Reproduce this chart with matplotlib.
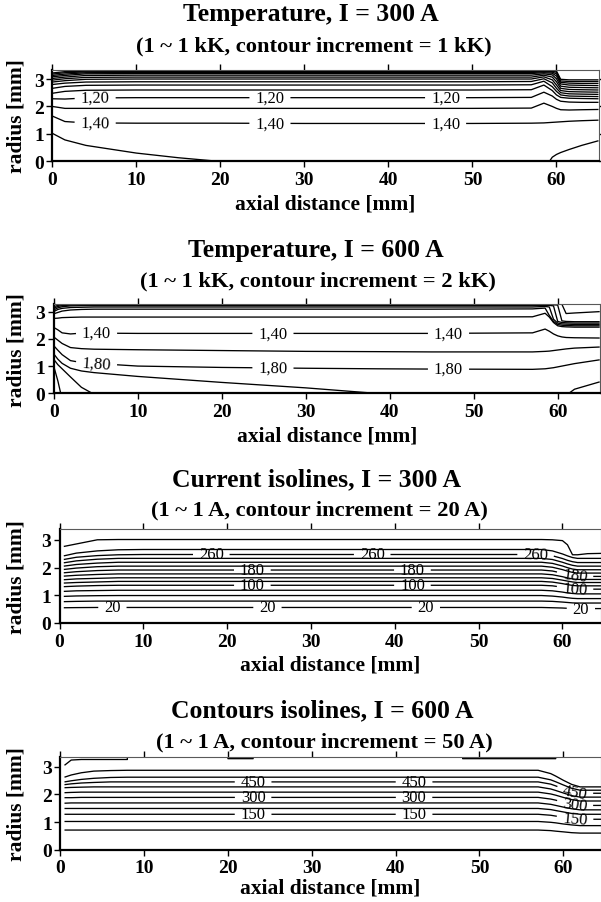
import numpy as np
import matplotlib
matplotlib.use('Agg')
import matplotlib.pyplot as plt

plt.rcParams['font.family'] = ['Liberation Serif', 'DejaVu Serif']

nan = np.nan
W, H = 601, 903

# ---------------- panel 1: temperature, I = 300 A (units of 10 kK) ----------------
x1 = [0, 1.5, 4, 10, 15, 20, 30, 40, 50, 57, 58.5, 59.5, 60.0, 60.5, 61.5, 63, 65]
axis1 = [1.58, 1.57, 1.56, 1.53, 1.51, 1.4995, 1.47, 1.46, 1.46, 1.46, 1.48, 1.51, 1.515, 1.52, 1.53, 1.545, 1.56]
levels1 = [1.5, 1.4, 1.3, 1.2, 1.1, 1.0, 0.9, 0.8, 0.7, 0.6, 0.5, 0.4, 0.3, 0.2]
radii1 = [
    [1.02, 0.78, 0.58, 0.30, 0.13, nan, nan, nan, nan, nan, nan, 0.15, 0.25, 0.32, 0.43, 0.58, 0.75],
    [1.65, 1.45, 1.40, 1.39, 1.39, 1.39, 1.38, 1.38, 1.38, 1.39, 1.40, 1.42, 1.43, 1.44, 1.46, 1.48, 1.50],
    [2.00, 1.93, 1.93, 1.93, 1.93, 1.93, 1.93, 1.93, 1.93, 1.94, 2.12, 2.00, 1.93, 1.88, 1.87, 1.88, 1.89],
    [2.28, 2.27, 2.31, 2.32, 2.32, 2.32, 2.32, 2.32, 2.32, 2.33, 2.52, 2.38, 2.26, 2.19, 2.16, 2.15, 2.15],
    [2.48, 2.55, 2.59, 2.60, 2.60, 2.60, 2.60, 2.60, 2.60, 2.61, 2.78, 2.58, 2.42, 2.33, 2.30, 2.29, 2.28],
    [2.66, 2.73, 2.77, 2.78, 2.78, 2.78, 2.78, 2.78, 2.78, 2.79, 2.92, 2.72, 2.55, 2.42, 2.38, 2.37, 2.36],
    [2.80, 2.85, 2.89, 2.90, 2.90, 2.90, 2.90, 2.90, 2.90, 2.91, 3.01, 2.86, 2.66, 2.50, 2.46, 2.45, 2.44],
    [2.89, 2.94, 2.99, 3.00, 3.00, 3.00, 3.00, 3.00, 3.00, 3.00, 3.08, 2.97, 2.78, 2.58, 2.54, 2.53, 2.52],
    [2.96, 3.01, 3.06, 3.07, 3.07, 3.07, 3.07, 3.07, 3.07, 3.07, 3.14, 3.07, 2.90, 2.66, 2.62, 2.61, 2.60],
    [3.02, 3.07, 3.13, 3.14, 3.14, 3.14, 3.14, 3.14, 3.14, 3.14, 3.19, 3.15, 3.01, 2.74, 2.70, 2.69, 2.68],
    [3.08, 3.13, 3.19, 3.20, 3.20, 3.20, 3.20, 3.20, 3.20, 3.20, 3.23, 3.21, 3.11, 2.82, 2.78, 2.77, 2.76],
    [3.13, 3.18, 3.23, 3.24, 3.24, 3.24, 3.24, 3.24, 3.24, 3.24, 3.26, 3.25, 3.19, 2.88, 2.85, 2.84, 2.84],
    [3.18, 3.23, 3.26, 3.27, 3.27, 3.27, 3.27, 3.27, 3.27, 3.27, 3.28, 3.28, 3.25, 2.93, 2.91, 2.91, 2.91],
    [3.22, 3.27, 3.285, 3.29, 3.29, 3.29, 3.29, 3.29, 3.29, 3.29, 3.295, 3.295, 3.29, 2.99, 2.97, 2.97, 2.97],
]
wall1_r = [3.32, 3.32, 3.32, 3.32, 3.32, 3.32, 3.32, 3.32, 3.32, 3.32, 3.32, 3.32, 3.32, 3.02, 3.02, 3.02, 3.02]
wall1_v = 0.1

# ---------------- panel 2: temperature, I = 600 A ----------------
x2 = [0, 0.5, 1, 2, 3.3, 4.8, 10, 20, 30, 38.5, 45, 57, 58.5, 59.0, 59.5, 60.0, 60.5, 61.0, 62.0, 65]
axis2 = [2.50, 2.44, 2.38, 2.32, 2.23, 2.195, 2.12, 2.06, 2.02, 1.9995, 1.98, 1.97, 1.97, 1.975, 1.98, 1.985, 1.99, 1.995, 2.01, 2.03]
levels2 = [2.4, 2.2, 2.0, 1.8, 1.6, 1.4, 1.2, 1.0, 0.8, 0.6, 0.4, 0.2]
radii2 = [
    [1.00, 0.45, nan, nan, nan, nan, nan, nan, nan, nan, nan, nan, nan, nan, nan, nan, nan, nan, nan, nan],
    [1.25, 1.05, 0.90, 0.60, 0.22, nan, nan, nan, nan, nan, nan, nan, nan, nan, nan, nan, nan, nan, nan, nan],
    [1.45, 1.25, 1.10, 0.92, 0.82, 0.76, 0.62, 0.40, 0.20, nan, nan, nan, nan, nan, nan, nan, nan, nan, 0.15, 0.42],
    [1.75, 1.58, 1.42, 1.20, 1.13, 1.10, 1.00, 0.95, 0.92, 0.90, 0.89, 0.88, 0.90, 0.92, 0.94, 0.97, 1.00, 1.03, 1.09, 1.23],
    [2.07, 1.95, 1.83, 1.68, 1.64, 1.62, 1.60, 1.57, 1.54, 1.53, 1.52, 1.52, 1.54, 1.55, 1.57, 1.59, 1.61, 1.63, 1.66, 1.70],
    [2.42, 2.33, 2.22, 2.18, 2.21, 2.21, 2.20, 2.20, 2.20, 2.20, 2.20, 2.22, 2.36, 2.28, 2.18, 2.11, 2.07, 2.05, 2.04, 2.03],
    [2.75, 2.76, 2.78, 2.79, 2.80, 2.80, 2.80, 2.80, 2.80, 2.80, 2.80, 2.81, 2.94, 2.80, 2.60, 2.48, 2.45, 2.44, 2.43, 2.43],
    [2.92, 2.97, 3.02, 3.06, 3.08, 3.09, 3.09, 3.09, 3.09, 3.09, 3.09, 3.10, 3.13, 2.86, 2.64, 2.53, 2.50, 2.49, 2.48, 2.48],
    [3.00, 3.08, 3.12, 3.15, 3.16, 3.17, 3.17, 3.17, 3.17, 3.17, 3.17, 3.17, 3.19, 3.17, 2.72, 2.58, 2.55, 2.54, 2.53, 2.53],
    [3.06, 3.14, 3.18, 3.21, 3.22, 3.22, 3.22, 3.22, 3.22, 3.22, 3.22, 3.22, 3.23, 3.23, 3.21, 2.64, 2.60, 2.59, 2.58, 2.58],
    [3.12, 3.19, 3.22, 3.24, 3.245, 3.245, 3.245, 3.245, 3.245, 3.245, 3.245, 3.245, 3.25, 3.25, 3.25, 3.24, 2.66, 2.64, 2.63, 2.63],
    [3.18, 3.23, 3.25, 3.265, 3.27, 3.27, 3.27, 3.27, 3.27, 3.27, 3.27, 3.27, 3.27, 3.27, 3.27, 3.27, 3.27, 2.93, 2.95, 3.00],
]
wall2_r = [3.30] * 17 + [2.98, 3.00, 3.04]
wall2_v = 0.1

# ---------------- panel 3: current isolines, I = 300 A ----------------
x3 = [0.5, 2, 4.5, 7, 10, 20, 30, 40, 50, 57.5, 58.8, 60.0, 60.6, 61.2, 61.8, 63, 64.6]
levels3 = [20, 40, 60, 80, 100, 120, 140, 160, 180, 200, 220, 240, 260, 280, 300]
radii3 = [
    [0.55, 0.555, 0.56, 0.56, 0.56, 0.56, 0.56, 0.56, 0.56, 0.56, 0.55, 0.54, 0.53, 0.52, 0.52, 0.52, 0.52],
    [0.77, 0.78, 0.79, 0.79, 0.79, 0.79, 0.79, 0.79, 0.79, 0.79, 0.78, 0.755, 0.74, 0.725, 0.72, 0.72, 0.72],
    [0.96, 0.975, 0.985, 0.99, 0.99, 0.99, 0.99, 0.99, 0.99, 0.99, 0.97, 0.935, 0.91, 0.89, 0.88, 0.88, 0.88],
    [1.14, 1.16, 1.17, 1.18, 1.18, 1.18, 1.18, 1.18, 1.18, 1.18, 1.16, 1.115, 1.085, 1.065, 1.05, 1.05, 1.05],
    [1.31, 1.33, 1.35, 1.36, 1.36, 1.36, 1.36, 1.36, 1.36, 1.36, 1.34, 1.29, 1.26, 1.235, 1.22, 1.22, 1.22],
    [1.44, 1.46, 1.48, 1.50, 1.50, 1.50, 1.50, 1.50, 1.50, 1.50, 1.475, 1.42, 1.385, 1.355, 1.34, 1.34, 1.34],
    [1.56, 1.59, 1.61, 1.63, 1.63, 1.63, 1.63, 1.63, 1.63, 1.63, 1.605, 1.545, 1.51, 1.48, 1.46, 1.46, 1.46],
    [1.69, 1.72, 1.75, 1.77, 1.77, 1.77, 1.77, 1.77, 1.77, 1.77, 1.74, 1.67, 1.625, 1.59, 1.57, 1.57, 1.57],
    [1.81, 1.85, 1.89, 1.91, 1.91, 1.91, 1.91, 1.91, 1.91, 1.91, 1.875, 1.795, 1.745, 1.705, 1.68, 1.68, 1.68],
    [1.93, 1.98, 2.03, 2.05, 2.05, 2.05, 2.05, 2.05, 2.05, 2.05, 2.01, 1.925, 1.87, 1.825, 1.80, 1.80, 1.80],
    [2.05, 2.11, 2.16, 2.19, 2.19, 2.19, 2.19, 2.19, 2.19, 2.19, 2.15, 2.055, 1.995, 1.945, 1.92, 1.92, 1.92],
    [2.17, 2.24, 2.30, 2.33, 2.33, 2.33, 2.33, 2.33, 2.33, 2.33, 2.29, 2.19, 2.13, 2.08, 2.05, 2.05, 2.05],
    [2.29, 2.37, 2.43, 2.46, 2.47, 2.47, 2.47, 2.47, 2.47, 2.47, 2.425, 2.325, 2.26, 2.21, 2.18, 2.18, 2.18],
    [2.42, 2.52, 2.60, 2.64, 2.65, 2.65, 2.65, 2.65, 2.65, 2.65, 2.60, 2.49, 2.42, 2.36, 2.33, 2.33, 2.33],
    [2.76, 2.85, 3.00, 3.01, 3.01, 3.01, 3.01, 3.01, 3.01, 3.01, 3.00, 2.97, 2.82, 2.46, 2.46, 2.50, 2.51],
]
wall3_r = 3.45
wall3_v = 310

# ---------------- panel 4: current isolines, I = 600 A ----------------
x4 = [0.5, 1.3, 2.5, 4, 6, 8, 10, 20, 23, 30, 40, 48, 57, 58.5, 59.1, 60, 61, 62, 64.5]
levels4 = [50, 100, 150, 200, 250, 300, 350, 400, 450, 500, 550, 600]
radii4 = [
    [0.71, 0.71, 0.71, 0.71, 0.71, 0.71, 0.71, 0.71, 0.71, 0.71, 0.71, 0.71, 0.71, 0.69, 0.67, 0.645, 0.615, 0.60, 0.60],
    [1.02, 1.02, 1.02, 1.02, 1.02, 1.02, 1.02, 1.02, 1.02, 1.02, 1.02, 1.02, 1.02, 0.99, 0.97, 0.93, 0.895, 0.87, 0.87],
    [1.28, 1.28, 1.28, 1.28, 1.28, 1.28, 1.28, 1.28, 1.28, 1.28, 1.28, 1.28, 1.28, 1.245, 1.215, 1.17, 1.125, 1.10, 1.10],
    [1.49, 1.49, 1.49, 1.49, 1.49, 1.49, 1.49, 1.49, 1.49, 1.49, 1.49, 1.49, 1.49, 1.45, 1.415, 1.365, 1.31, 1.28, 1.28],
    [1.68, 1.69, 1.69, 1.69, 1.69, 1.69, 1.69, 1.69, 1.69, 1.69, 1.69, 1.69, 1.69, 1.64, 1.60, 1.54, 1.48, 1.44, 1.44],
    [1.88, 1.88, 1.89, 1.89, 1.89, 1.89, 1.89, 1.89, 1.89, 1.89, 1.89, 1.89, 1.89, 1.83, 1.79, 1.715, 1.645, 1.60, 1.60],
    [2.06, 2.07, 2.08, 2.08, 2.08, 2.08, 2.08, 2.08, 2.08, 2.08, 2.08, 2.08, 2.08, 2.015, 1.97, 1.89, 1.81, 1.76, 1.76],
    [2.24, 2.25, 2.26, 2.27, 2.27, 2.27, 2.27, 2.27, 2.27, 2.27, 2.27, 2.27, 2.27, 2.195, 2.14, 2.05, 1.955, 1.90, 1.90],
    [2.35, 2.38, 2.41, 2.43, 2.45, 2.45, 2.45, 2.45, 2.45, 2.45, 2.45, 2.45, 2.45, 2.37, 2.305, 2.205, 2.10, 2.04, 2.04],
    [2.45, 2.49, 2.54, 2.58, 2.61, 2.62, 2.62, 2.62, 2.62, 2.62, 2.62, 2.62, 2.62, 2.525, 2.455, 2.34, 2.22, 2.15, 2.15],
    [2.62, 2.70, 2.78, 2.84, 2.86, 2.87, 2.87, 2.87, 2.87, 2.87, 2.87, 2.87, 2.87, 2.75, 2.66, 2.51, 2.36, 2.27, 2.27],
    [3.05, 3.24, 3.26, 3.26, 3.26, 3.26, 3.30, 3.29, 3.29, 3.30, 3.30, 3.29, 3.29, 3.29, 3.29, 3.30, 3.30, 3.30, 3.30],
]
# field value on the outermost (600 A) row: the isoline only exists where it is 600
value4_top = [600, 600, 600, 600, 600, 600, 590, 600, 600, 590, 590, 600, 600, 600, 600, 590, 590, 590, 590]
wall4_r = 3.45
wall4_v = [600.01, 600.01, 600.01, 600.01, 600.01, 600.01, 595, 600.01, 600.01, 595, 595,
           600.01, 600.01, 600.01, 600.01, 595, 595, 595, 595]


def build_grid(x, axis_val, levels, radii, wall_r, wall_val, last_row_val=None):
    # curvilinear grid: one row per isoline radius, plus axis and wall rows
    x = np.asarray(x, float)
    n = len(x)
    axis_val = np.broadcast_to(np.asarray(axis_val, float), (n,))
    rows_r = [np.zeros(n)]
    rows_z = [axis_val]
    for k, (lev, rr) in enumerate(zip(levels, radii)):
        rr = np.asarray(rr, float)
        gone = np.isnan(rr)
        if last_row_val is not None and k == len(levels) - 1:
            lev = np.asarray(last_row_val, float)
        rows_r.append(np.where(gone, 0.0, rr))
        rows_z.append(np.where(gone, axis_val, np.broadcast_to(lev, (n,))))
    rows_r.append(np.broadcast_to(np.asarray(wall_r, float), (n,)))
    rows_z.append(np.broadcast_to(np.asarray(wall_val, float), (n,)))
    R = np.vstack(rows_r)
    Z = np.vstack(rows_z)
    X = np.tile(x, (R.shape[0], 1))
    return X, R, Z


def draw_panel(fig, box, xlim, ylim, grid, levels, shift, lab_levels, lab_pos, fmt,
               title, subtitle, title_y, sub_y, title_x, xlab_off=42):
    left, top, right, bottom = box
    ax = fig.add_axes([left / W, 1 - bottom / H, (right - left) / W, (bottom - top) / H])
    X, R, Z = grid
    plain = [l for l in levels if l not in lab_levels]
    ax.contour(X, R, Z, levels=np.sort(np.asarray(plain, float) + shift),
               colors='k', linewidths=0.95)
    cs = ax.contour(X, R, Z, levels=np.sort(np.asarray(lab_levels, float) + shift),
                    colors='k', linewidths=0.95)
    ax.clabel(cs, manual=lab_pos, inline=True, inline_spacing=6,
              fontsize=12, fmt=fmt)

    ax.set_xlim(*xlim)
    ax.set_ylim(*ylim)
    ax.set_xticks(range(0, 61, 10))
    ax.set_yticks([0, 1, 2, 3])
    ax.tick_params(direction='out', top=True, right=True, length=4, width=1,
                   labelsize=14)
    ax.tick_params(axis='x', pad=3)
    ax.tick_params(axis='y', pad=2)
    for t in ax.get_xticklabels() + ax.get_yticklabels():
        t.set_fontweight('bold')
    for s in ['left', 'bottom']:
        ax.spines[s].set_linewidth(1.6)
    for s in ['top', 'right']:
        ax.spines[s].set_linewidth(0.8)
        ax.spines[s].set_color('0.35')

    h_px = bottom - top
    ax.set_xlabel('axial distance [mm]', fontsize=15.5, fontweight='bold', va='center')
    ax.xaxis.set_label_coords(0.5, -xlab_off / h_px)
    ax.set_ylabel('radius [mm]', fontsize=15.5, fontweight='bold', va='center')
    ax.yaxis.set_label_coords((16.5 - left) / (right - left), 0.5)

    fig.text(title_x[0] / W, 1 - title_y / H, title, ha='center', va='center',
             fontsize=18.5, fontweight='bold')
    fig.text(title_x[1] / W, 1 - sub_y / H, subtitle, ha='center', va='center',
             fontsize=16.2, fontweight='bold')
    return ax


fig = plt.figure(figsize=(W / 100, H / 100), dpi=100)

temp_fmt = lambda v: f'{v:.2f}'.replace('.', ',')
cur_fmt = lambda v: f'{v:.0f}'

g1 = build_grid(x1, axis1, levels1, radii1, wall1_r, wall1_v)
draw_panel(fig, (52.3, 70.7, 598.5, 162.3), (0, 65), (0, 3.34), g1, levels1, 1e-6,
           [1.2, 1.4],
           [(5.1, 2.31), (25.9, 2.32), (46.8, 2.32), (5.1, 1.40), (25.9, 1.38), (46.8, 1.38)],
           temp_fmt, 'Temperature, I = 300 A', '(1 ~ 1 kK, contour increment = 1 kK)',
           15, 46, (311, 314))

g2 = build_grid(x2, axis2, levels2, radii2, wall2_r, wall2_v)
draw_panel(fig, (53.7, 305, 599.7, 394.3), (0, 65), (0, 3.28), g2, levels2, 1e-6,
           [1.4, 1.8],
           [(5.1, 2.21), (26.1, 2.2), (47, 2.2), (5.1, 1.1), (26.1, 0.93), (47, 0.89)],
           temp_fmt, 'Temperature, I = 600 A', '(1 ~ 1 kK, contour increment = 2 kK)',
           251, 281, (316, 318))

g3 = build_grid(x3, 0.0, levels3, radii3, wall3_r, wall3_v)
draw_panel(fig, (59.6, 529.7, 601, 624), (0, 64.6), (0, 3.4), g3, levels3, -1e-6,
           [20, 100, 180, 260],
           [(18.1, 2.47), (37.3, 2.47), (56.8, 2.47),
            (23, 1.91), (42.1, 1.91), (61.5, 1.72),
            (23, 1.36), (42.1, 1.36), (61.5, 1.24),
            (6.3, 0.56), (24.8, 0.56), (43.7, 0.56), (62.2, 0.52)],
           cur_fmt, 'Current isolines, I = 300 A', '(1 ~ 1 A, contour increment = 20 A)',
           480, 510, (317, 319))

g4 = build_grid(x4, 0.0, levels4, radii4, wall4_r, wall4_v, last_row_val=value4_top)
draw_panel(fig, (60.3, 758, 601, 850.7), (0, 64.5), (0, 3.35), g4, levels4, -1e-6,
           [150, 300, 450],
           [(23, 2.45), (42.2, 2.45), (61.4, 2.1),
            (23, 1.89), (42.2, 1.89), (61.4, 1.65),
            (23, 1.28), (42.2, 1.28), (61.4, 1.12)],
           cur_fmt, 'Contours isolines, I = 600 A', '(1 ~ 1 A, contour increment = 50 A)',
           711, 742, (322, 324), xlab_off=38)

fig.savefig('out.png', dpi=100)
